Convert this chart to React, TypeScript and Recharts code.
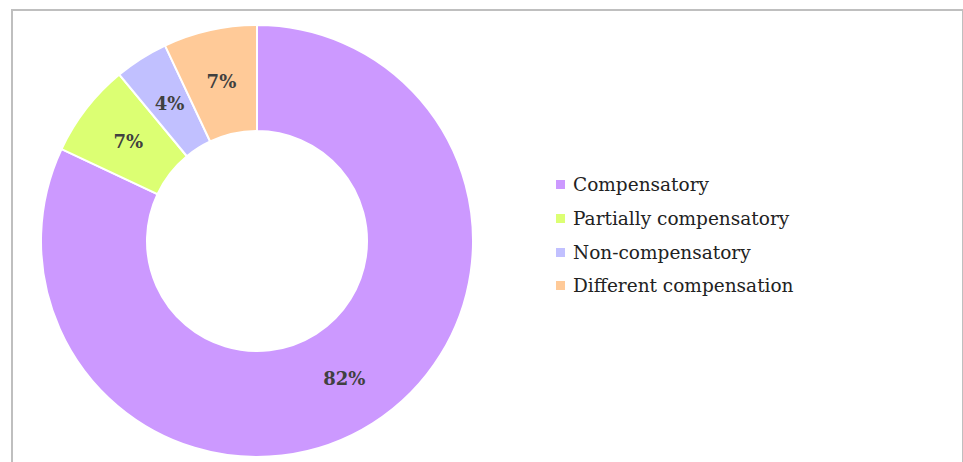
import React from "react";
import { PieChart, Pie, Cell, Legend } from "recharts";

const categories = [
  "Compensatory",
  "Partially compensatory",
  "Non-compensatory",
  "Different compensation"
];
const shares = [82, 7, 4, 7];
const COLORS = ["#CC99FF", "#DCFF73", "#C1C0FF", "#FFCA98"];

const pieData = categories.map((name, i) => ({ name, value: shares[i] }));

const RADIAN = Math.PI / 180;
const FONT = "'DejaVu Serif', 'Liberation Serif', serif";

function renderLabel(props: any) {
  const { cx, cy, midAngle, innerRadius, outerRadius, value } = props;
  const r = (innerRadius + outerRadius) / 2;
  const x = cx + r * Math.cos(-midAngle * RADIAN);
  const y = cy + r * Math.sin(-midAngle * RADIAN);
  return (
    <text
      x={x}
      y={y}
      textAnchor="middle"
      dominantBaseline="central"
      fill="#404040"
      fontFamily={FONT}
      fontWeight="bold"
      fontSize={18}
    >
      {value}%
    </text>
  );
}

function LegendBox() {
  return (
    <div style={{ fontFamily: FONT, fontSize: 18.5, color: "#222" }}>
      {categories.map((c, i) => (
        <div key={c} style={{ display: "flex", alignItems: "center", height: 33.7 }}>
          <span
            style={{
              width: 9,
              height: 9,
              background: COLORS[i],
              display: "inline-block",
              marginRight: 8
            }}
          />
          <span>{c}</span>
        </div>
      ))}
    </div>
  );
}

export default function App() {
  return (
    <div style={{ position: "fixed", left: 0, top: 0, width: 963, height: 462, background: "#fff" }}>
      {/* frame: top, left, right only */}
      <div
        style={{
          position: "absolute",
          left: 11,
          top: 9,
          width: 949,
          height: 460,
          borderTop: "2px solid #bfbfbf",
          borderLeft: "2px solid #bfbfbf",
          borderRight: "2px solid #bfbfbf"
        }}
      />
      <div style={{ position: "absolute", left: 0, top: 0 }}>
        <PieChart width={963} height={462} margin={{ top: 0, right: 0, bottom: 0, left: 0 }}>
          <Pie
            data={pieData}
            dataKey="value"
            nameKey="name"
            cx={257}
            cy={241}
            innerRadius={110}
            outerRadius={216}
            startAngle={90}
            endAngle={-270}
            stroke="#fff"
            strokeWidth={2}
            label={renderLabel}
            labelLine={false}
            isAnimationActive={false}
          >
            {pieData.map((d, i) => (
              <Cell key={d.name} fill={COLORS[i]} />
            ))}
          </Pie>
          <Legend
            content={<LegendBox />}
            wrapperStyle={{ left: 556, top: 168, width: 320 }}
          />
        </PieChart>
      </div>
    </div>
  );
}
